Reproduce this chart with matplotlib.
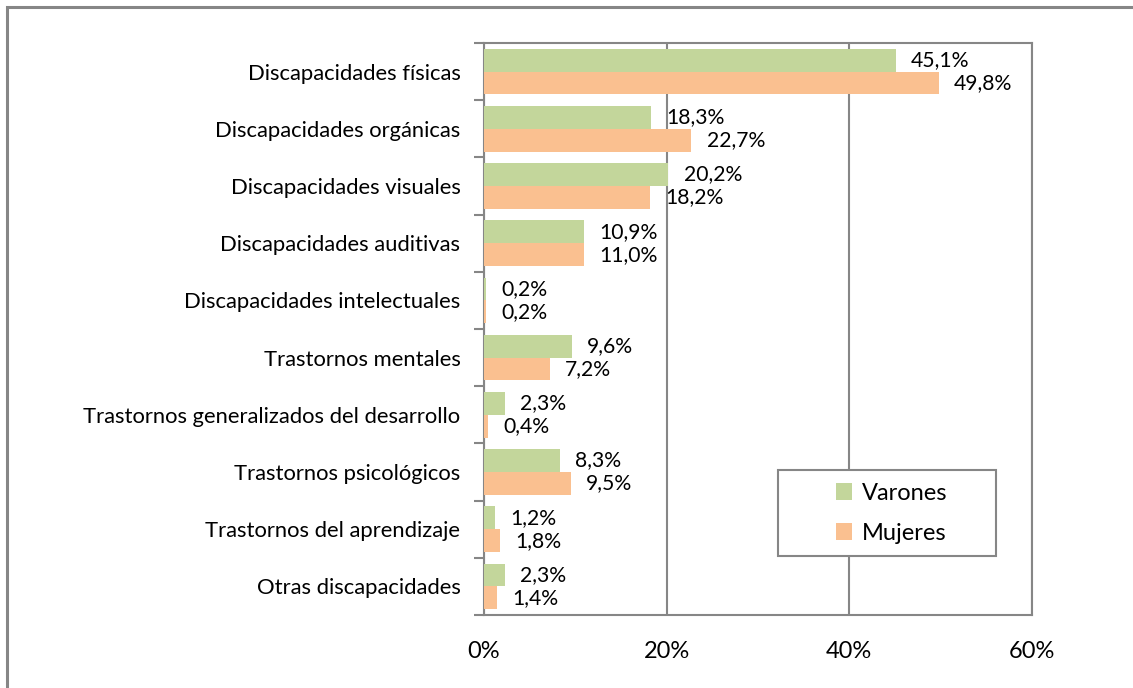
"""
Discapacidades por sexo: barras horizontales agrupadas (Varones / Mujeres).
Saves to out.png
"""
import numpy as np
import matplotlib.pyplot as plt
from matplotlib.patches import Rectangle

plt.rcParams['font.family'] = ['Lato', 'DejaVu Sans']

categories = [
    'Discapacidades físicas',
    'Discapacidades orgánicas',
    'Discapacidades visuales',
    'Discapacidades auditivas',
    'Discapacidades intelectuales',
    'Trastornos mentales',
    'Trastornos generalizados del desarrollo',
    'Trastornos psicológicos',
    'Trastornos del aprendizaje',
    'Otras discapacidades',
]
varones = [45.1, 18.3, 20.2, 10.9, 0.2, 9.6, 2.3, 8.3, 1.2, 2.3]
mujeres = [49.8, 22.7, 18.2, 11.0, 0.2, 7.2, 0.4, 9.5, 1.8, 1.4]
xticks = [0, 20, 40, 60]

GREEN = '#C3D69B'
ORANGE = '#FAC090'
GRID = '#868686'

fig = plt.figure(figsize=(11.33, 6.88), dpi=100)
ax = fig.add_axes([484/1133, 73/688, 548/1133, 572/688])

# outer chart border (only top/left visible in the original crop)
fig.patches.append(Rectangle((7/1133, -0.05), 1.2, (688-6.5)/688 + 0.05,
                             transform=fig.transFigure, fill=False,
                             edgecolor=GRID, linewidth=2.2))

y = np.arange(len(categories))
h = 0.4
b1 = ax.barh(y - h/2, varones, height=h, color=GREEN, label='Varones', zorder=3)
b2 = ax.barh(y + h/2, mujeres, height=h, color=ORANGE, label='Mujeres', zorder=3)

for bars, vals in ((b1, varones), (b2, mujeres)):
    for bar, v in zip(bars, vals):
        ax.annotate(f'{v:.1f}%'.replace('.', ','),
                    xy=(bar.get_width(), bar.get_y() + bar.get_height()/2),
                    xytext=(11, 0), textcoords='offset points',
                    ha='left', va='center', fontsize=15.2, color='black', zorder=4)

ax.set_xlim(0, 60)
ax.set_ylim(len(categories) - 0.5, -0.5)
ax.set_xticks(xticks)
ax.set_xticklabels([f'{t}%' for t in xticks], fontsize=17)
ax.tick_params(axis='x', length=0, pad=19)

# category labels centred, tick marks on category boundaries
ax.set_yticks(y)
ax.set_yticklabels(categories, fontsize=15.8)
ax.tick_params(axis='y', which='major', length=0, pad=17)
ax.set_yticks(np.arange(-0.5, len(categories) + 0.5, 1), minor=True)
ax.tick_params(axis='y', which='minor', length=7, width=1.5, color=GRID, direction='out')

ax.xaxis.grid(True, color=GRID, linewidth=1.5, zorder=0)
for s in ax.spines.values():
    s.set_color(GRID)
    s.set_linewidth(1.5)

# legend box drawn like the Excel one: wide frame, entries right of centre
ax.add_patch(Rectangle((0.5365, 0.103), 0.3975, 0.1505, transform=ax.transAxes,
                       facecolor='white', edgecolor=GRID, linewidth=1.5, zorder=5))
leg = ax.legend(loc='center left', bbox_to_anchor=(0.642, 0.178), fontsize=17,
                frameon=False, handlelength=0.7, handleheight=0.7,
                handletextpad=0.4, labelspacing=0.8, borderpad=0,
                borderaxespad=0)
leg.set_zorder(6)

plt.savefig('out.png', dpi=100)
